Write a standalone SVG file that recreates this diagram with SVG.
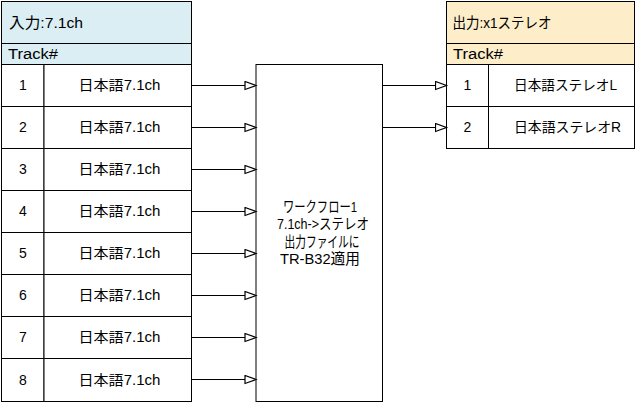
<svg xmlns="http://www.w3.org/2000/svg" width="638" height="404" viewBox="0 0 638 404">
<style>
.b{fill:#fff;stroke:#000;stroke-width:1}
.hl{fill:#daeef3;stroke:#000;stroke-width:1}
.hr{fill:#fdedc9;stroke:#000;stroke-width:1}
text{font-family:"Liberation Sans","Noto Sans CJK JP",sans-serif;font-size:14px;fill:#000}
.c{text-anchor:middle}
.h{font-size:15px}
.ln{stroke:#000;stroke-width:1.2;fill:none}
</style>
<defs>
<marker id="ar" markerWidth="14" markerHeight="10" refX="12" refY="5" orient="auto" markerUnits="userSpaceOnUse">
<path d="M1,1 L12,5 L1,9 Z" fill="#fff" stroke="#000" stroke-width="1.2"/>
</marker>
</defs>
<g id="input">
<rect class="hl" x="1.5" y="1.5" width="190" height="42"/>
<text class="h" x="9" y="28" textLength="74" lengthAdjust="spacingAndGlyphs">入力:7.1ch</text>
<rect class="hl" x="1.5" y="43.5" width="190" height="21"/>
<text x="8" y="58.5" textLength="50" lengthAdjust="spacingAndGlyphs">Track#</text>
</g>
<g id="in1"><rect class="b" x="1.5" y="64.5" width="42.5" height="42"/><rect class="b" x="44" y="64.5" width="147.5" height="42"/><text class="c" x="23" y="90">1</text><text x="78.5" y="90" textLength="82" lengthAdjust="spacingAndGlyphs">日本語7.1ch</text></g>
<g id="in2"><rect class="b" x="1.5" y="106.5" width="42.5" height="42"/><rect class="b" x="44" y="106.5" width="147.5" height="42"/><text class="c" x="23" y="132">2</text><text x="78.5" y="132" textLength="82" lengthAdjust="spacingAndGlyphs">日本語7.1ch</text></g>
<g id="in3"><rect class="b" x="1.5" y="148.5" width="42.5" height="42"/><rect class="b" x="44" y="148.5" width="147.5" height="42"/><text class="c" x="23" y="174">3</text><text x="78.5" y="174" textLength="82" lengthAdjust="spacingAndGlyphs">日本語7.1ch</text></g>
<g id="in4"><rect class="b" x="1.5" y="190.5" width="42.5" height="42"/><rect class="b" x="44" y="190.5" width="147.5" height="42"/><text class="c" x="23" y="216">4</text><text x="78.5" y="216" textLength="82" lengthAdjust="spacingAndGlyphs">日本語7.1ch</text></g>
<g id="in5"><rect class="b" x="1.5" y="232.5" width="42.5" height="42"/><rect class="b" x="44" y="232.5" width="147.5" height="42"/><text class="c" x="23" y="258">5</text><text x="78.5" y="258" textLength="82" lengthAdjust="spacingAndGlyphs">日本語7.1ch</text></g>
<g id="in6"><rect class="b" x="1.5" y="274.5" width="42.5" height="42"/><rect class="b" x="44" y="274.5" width="147.5" height="42"/><text class="c" x="23" y="300">6</text><text x="78.5" y="300" textLength="82" lengthAdjust="spacingAndGlyphs">日本語7.1ch</text></g>
<g id="in7"><rect class="b" x="1.5" y="316.5" width="42.5" height="42"/><rect class="b" x="44" y="316.5" width="147.5" height="42"/><text class="c" x="23" y="342">7</text><text x="78.5" y="342" textLength="82" lengthAdjust="spacingAndGlyphs">日本語7.1ch</text></g>
<g id="in8"><rect class="b" x="1.5" y="358.5" width="42.5" height="43"/><rect class="b" x="44" y="358.5" width="147.5" height="43"/><text class="c" x="23" y="385">8</text><text x="78.5" y="385" textLength="82" lengthAdjust="spacingAndGlyphs">日本語7.1ch</text></g>
<g id="workflow">
<rect class="b" x="256" y="64.5" width="126.5" height="337"/>
<text class="c h" x="320" y="211.5" textLength="74" lengthAdjust="spacingAndGlyphs">ワークフロー1</text>
<text class="c h" x="323" y="229" textLength="92" lengthAdjust="spacingAndGlyphs">7.1ch-&gt;ステレオ</text>
<text class="c h" x="322" y="246.5" textLength="75" lengthAdjust="spacingAndGlyphs">出力ファイルに</text>
<text class="c h" x="320" y="264" textLength="80" lengthAdjust="spacingAndGlyphs">TR-B32適用</text>
</g>
<g id="output">
<rect class="hr" x="446.5" y="1.5" width="188" height="42"/>
<text class="h" x="452.5" y="28" textLength="99" lengthAdjust="spacingAndGlyphs">出力:x1ステレオ</text>
<rect class="hr" x="446.5" y="43.5" width="188" height="21"/>
<text x="453" y="58.5" textLength="50" lengthAdjust="spacingAndGlyphs">Track#</text>
</g>
<g id="out1"><rect class="b" x="446.5" y="64.5" width="42" height="42"/><rect class="b" x="488.5" y="64.5" width="146" height="42"/><text class="c" x="467.5" y="90">1</text><text x="514" y="90" textLength="103" lengthAdjust="spacingAndGlyphs">日本語ステレオL</text></g>
<g id="out2"><rect class="b" x="446.5" y="106.5" width="42" height="42"/><rect class="b" x="488.5" y="106.5" width="146" height="42"/><text class="c" x="467.5" y="132">2</text><text x="514" y="132" textLength="107" lengthAdjust="spacingAndGlyphs">日本語ステレオR</text></g>
<g id="connectors">
<path class="ln" marker-end="url(#ar)" d="M192,85.5 H256"/>
<path class="ln" marker-end="url(#ar)" d="M192,127.5 H256"/>
<path class="ln" marker-end="url(#ar)" d="M192,169.5 H256"/>
<path class="ln" marker-end="url(#ar)" d="M192,211.5 H256"/>
<path class="ln" marker-end="url(#ar)" d="M192,253.5 H256"/>
<path class="ln" marker-end="url(#ar)" d="M192,295.5 H256"/>
<path class="ln" marker-end="url(#ar)" d="M192,337.5 H256"/>
<path class="ln" marker-end="url(#ar)" d="M192,379.5 H256"/>
<path class="ln" marker-end="url(#ar)" d="M382.5,85.5 H446.5"/>
<path class="ln" marker-end="url(#ar)" d="M382.5,127.5 H446.5"/>
</g>
</svg>
